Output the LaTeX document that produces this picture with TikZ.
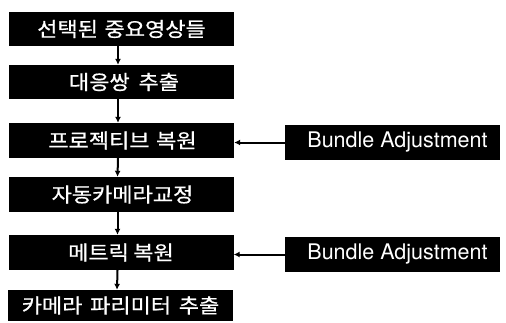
\documentclass[tikz,border=0pt]{standalone}
\usepackage{graphicx}
\usepackage{fontspec}
\setmainfont{TeX Gyre Heros}
\newfontfamily\kr[FakeBold=0.6]{Noto Sans CJK KR}
\usetikzlibrary{arrows.meta}
\tikzset{
  stepbox/.style={fill=black, text=white, inner sep=0pt, minimum width=225pt, minimum height=34pt, font=\kr\fontsize{20}{20}\selectfont},
  babox/.style={fill=black, text=white, inner sep=0pt, minimum width=215pt, minimum height=35pt, font=\fontsize{21.5}{22}\selectfont},
  flow/.style={line width=2pt, -{Latex[length=6pt,width=6pt]}},
}
\newcommand\wg[1]{\hspace{#1pt}}
\newcommand\kw[1]{\scalebox{1.1}[1]{#1}}
\begin{document}
\begin{tikzpicture}[x=1pt,y=-1pt]
\useasboundingbox (0,0) rectangle (506,322);
\node[stepbox] (b1) at (121.5,29) {\kw{선택된\wg{6}중요영상들}};
\node[stepbox] (b2) at (121.5,82) {\hspace{5pt}\kw{대응쌍\wg{8}추출}};
\node[stepbox, minimum height=35pt] (b3) at (121.5,140.5) {\hspace{2pt}\kw{프로젝티브\wg{6}복원}};
\node[stepbox, minimum height=35pt] (b4) at (121,194.5) {\hspace{3pt}\kw{자동카메라교정}};
\node[stepbox, minimum height=35pt] (b5) at (121,252.5) {\kw{메트릭\wg{4}복원}\hspace{5pt}};
\node[stepbox, minimum height=31pt] (b6) at (120.5,305.5) {\kw{카메라\wg{7}파리미터\wg{7}추출}};
\node[babox] (ba1) at (392.5,142.5) {\hspace{10pt}Bundle Adjustment};
\node[babox] (ba2) at (392.5,254.5) {\hspace{10pt}Bundle Adjustment};
\foreach \a/\b in {b1/b2,b2/b3,b3/b4,b4/b5,b5/b6}
  \draw[flow] ([xshift=-3.5pt]\a.south) -- ([xshift=-3.5pt]\b.north);
\draw[flow] (ba1.west) -- (b3.east |- ba1.west);
\draw[flow] (ba2.west) -- (b5.east |- ba2.west);
\end{tikzpicture}
\end{document}
